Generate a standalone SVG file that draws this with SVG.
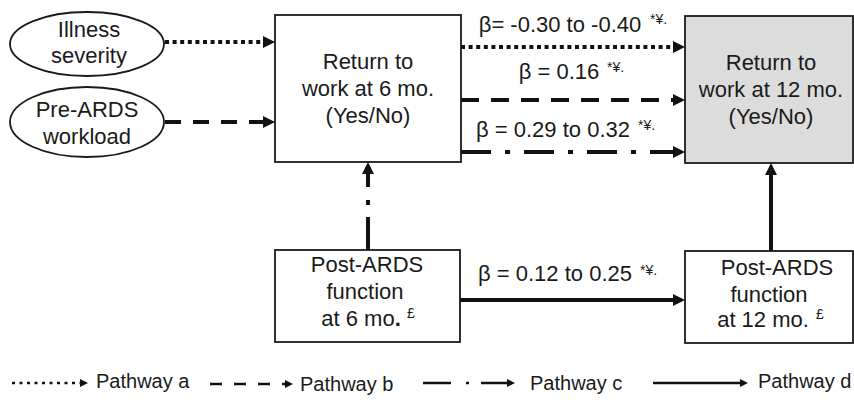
<svg xmlns="http://www.w3.org/2000/svg" width="854" height="403" viewBox="0 0 854 403">
<style>
text{font-family:"Liberation Sans",Arial,sans-serif;fill:#1a1a1a;}
.t{font-size:22px;text-anchor:middle;}
.s{font-size:14px;}
.lg{font-size:20px;}
.node{fill:#fff;stroke:#1a1a1a;stroke-width:1.8;}
.gray{fill:#dcdcdc;}
.c{fill:none;stroke:#111;stroke-width:4;}
.l{fill:none;stroke:#111;stroke-width:2.6;}
</style>
<defs>
<marker id="ah" markerUnits="userSpaceOnUse" markerWidth="13" markerHeight="13" refX="0" refY="6" orient="auto">
<path d="M0,0 L12,6 L0,12 z" fill="#111"/>
</marker>
<marker id="as" markerUnits="userSpaceOnUse" markerWidth="10" markerHeight="10" refX="0" refY="4" orient="auto">
<path d="M0,0 L8,4 L0,8 z" fill="#111"/>
</marker>
</defs>
<g id="illness">
<ellipse class="node" cx="87" cy="44" rx="77" ry="32"/>
<text class="t" x="89" y="37">Illness</text>
<text class="t" x="89" y="63">severity</text>
</g>
<g id="workload">
<ellipse class="node" cx="87" cy="122" rx="77" ry="35"/>
<text class="t" x="87" y="117">Pre-ARDS</text>
<text class="t" x="87" y="144">workload</text>
</g>
<g id="rtw6">
<rect class="node" x="275" y="15" width="186" height="147"/>
<text class="t" x="368" y="69">Return to</text>
<text class="t" x="368" y="96">work at 6 mo.</text>
<text class="t" x="368" y="123">(Yes/No)</text>
</g>
<g id="rtw12">
<rect class="node gray" x="685" y="16" width="168" height="147"/>
<text class="t" x="771" y="70">Return to</text>
<text class="t" x="771" y="97">work at 12 mo.</text>
<text class="t" x="771" y="124">(Yes/No)</text>
</g>
<g id="post6">
<rect class="node" x="275" y="250" width="185" height="92"/>
<text class="t" x="367" y="272">Post-ARDS</text>
<text class="t" x="365" y="299">function</text>
<text class="t" x="361" y="326">at 6 mo<tspan font-weight="bold">.</tspan></text>
<text class="s" x="407" y="318">£</text>
</g>
<g id="post12">
<rect class="node" x="685" y="251" width="168" height="92"/>
<text class="t" x="777" y="275">Post-ARDS</text>
<text class="t" x="769" y="302">function</text>
<text class="t" x="763" y="327">at 12 mo.</text>
<text class="s" x="816" y="319">£</text>
</g>
<g id="connectors">
<line class="c" x1="165" y1="42" x2="263" y2="42" stroke-dasharray="4 3.6" marker-end="url(#ah)"/>
<line class="c" x1="165" y1="122" x2="263" y2="122" stroke-dasharray="16 12" marker-end="url(#ah)"/>
<line class="c" x1="461" y1="47" x2="673" y2="47" stroke-dasharray="4 3.6" marker-end="url(#ah)"/>
<line class="c" x1="461" y1="100" x2="673" y2="100" stroke-dasharray="18 12" marker-end="url(#ah)"/>
<line class="c" x1="461" y1="152" x2="673" y2="152" stroke-dasharray="30 14 5 14" marker-end="url(#ah)"/>
<line class="c" x1="368" y1="250" x2="368" y2="174" stroke-dasharray="33 12 5 13 40" marker-end="url(#ah)"/>
<line class="c" x1="460" y1="300" x2="673" y2="300" marker-end="url(#ah)"/>
<line class="c" x1="771" y1="251" x2="771" y2="175" marker-end="url(#ah)"/>
</g>
<g id="labels">
<text class="t" x="560" y="32">β= -0.30 to -0.40</text>
<text class="s" x="650" y="24">*¥.</text>
<text class="t" x="559" y="79">β = 0.16</text>
<text class="s" x="607" y="72">*¥.</text>
<text class="t" x="553" y="137">β = 0.29 to 0.32</text>
<text class="s" x="638" y="130">*¥.</text>
<text class="t" x="555" y="281">β = 0.12 to 0.25</text>
<text class="s" x="640" y="275">*¥.</text>
</g>
<g id="legend">
<line class="l" x1="12" y1="383" x2="80" y2="383" stroke-dasharray="3 4.5" marker-end="url(#as)"/>
<text class="lg" x="96" y="388">Pathway a</text>
<line class="l" x1="210" y1="384" x2="285" y2="384" stroke-dasharray="12 12" marker-end="url(#as)"/>
<text class="lg" x="300" y="391">Pathway b</text>
<line class="l" x1="423" y1="383" x2="507" y2="383" stroke-dasharray="28 15 3 12" marker-end="url(#as)"/>
<text class="lg" x="530" y="390">Pathway c</text>
<line class="l" x1="653" y1="383" x2="740" y2="383" marker-end="url(#as)"/>
<text class="lg" x="758" y="388">Pathway d</text>
</g>
</svg>
